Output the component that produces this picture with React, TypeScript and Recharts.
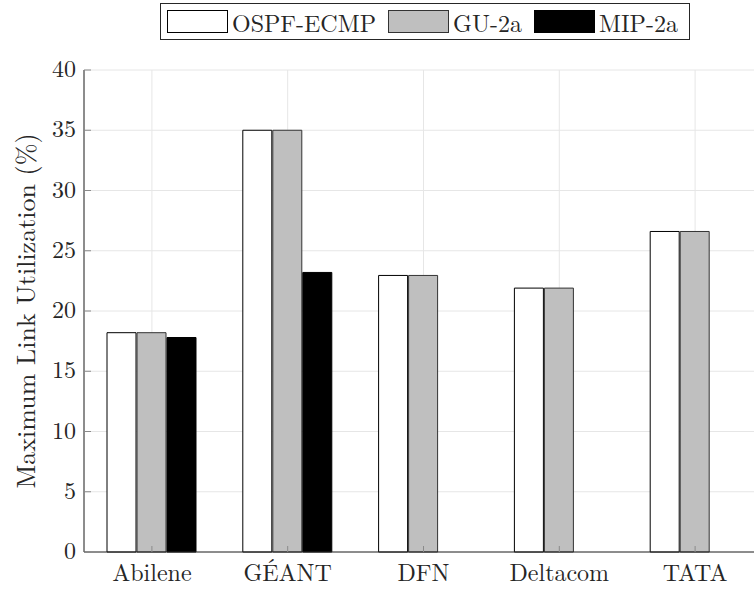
import React from "react";
import { BarChart, Bar, XAxis, YAxis, CartesianGrid } from "recharts";

const categories = ["Abilene", "GÉANT", "DFN", "Deltacom", "TATA"];
const ospfEcmp = [18.2, 35.0, 22.95, 21.9, 26.6];
const gu2a = [18.2, 35.0, 22.95, 21.9, 26.6];
const mip2a: (number | null)[] = [17.8, 23.2, null, null, null];
const yTicks = [0, 5, 10, 15, 20, 25, 30, 35, 40];

const seriesInfo = [
  { key: "ospf", name: "OSPF-ECMP", fill: "#ffffff", stroke: "#000000" },
  { key: "gu", name: "GU-2a", fill: "#bfbfbf", stroke: "#333333" },
  { key: "mip", name: "MIP-2a", fill: "#000000", stroke: "#000000" },
];

const data = categories.map((name, i) => ({
  name,
  ospf: ospfEcmp[i],
  gu: gu2a[i],
  mip: mip2a[i],
}));

const FONT = "'Latin Modern Roman', 'Liberation Serif', serif";
const AXIS = "#262626";
const TICK = "#8a8a8a";

function YTick(props: any) {
  const { x, y, payload } = props;
  return (
    <g>
      <line x1={x + 8} x2={x + 15} y1={y} y2={y} stroke={TICK} />
      <text x={x} y={y} dy="0.3em" textAnchor="end" fontFamily={FONT} fontSize={24} fill={AXIS}>
        {payload.value}
      </text>
    </g>
  );
}

function XTick(props: any) {
  const { x, y, payload } = props;
  const axisY = y - 13;
  return (
    <g>
      <line x1={x} x2={x} y1={axisY} y2={axisY - 6} stroke={TICK} />
      <text x={x} y={y} dy="0.68em" textAnchor="middle" fontFamily={FONT} fontSize={24} fill={AXIS}>
        {payload.value}
      </text>
    </g>
  );
}

function TopTick(props: any) {
  const { x, y } = props;
  return <line x1={x} x2={x} y1={y} y2={y + 6} stroke={TICK} />;
}

function YLabel(props: any) {
  const vb = props.viewBox;
  const cx = vb.x + 35;
  const cy = vb.y + vb.height / 2;
  return (
    <text
      x={cx}
      y={cy}
      transform={`rotate(-90 ${cx} ${cy})`}
      textAnchor="middle"
      fontFamily={FONT}
      fontSize={26}
      fill={AXIS}
    >
      Maximum Link Utilization (%)
    </text>
  );
}

function ChartLegend() {
  return (
    <div
      style={{
        position: "absolute",
        left: 160,
        top: 3,
        width: 530,
        height: 37,
        border: "1px solid #262626",
        background: "#fff",
        display: "flex",
        alignItems: "center",
        fontFamily: FONT,
        fontSize: 24,
        color: AXIS,
        boxSizing: "border-box",
        paddingLeft: 6,
        whiteSpace: "nowrap",
      }}
    >
      {seriesInfo.map((s) => (
        <div
          key={s.key}
          style={{ display: "flex", alignItems: "center", marginRight: 12, flexShrink: 0 }}
        >
          <div
            style={{
              width: 61,
              height: 23,
              boxSizing: "border-box",
              background: s.fill,
              border: `1px solid ${s.stroke}`,
              marginRight: 4,
              flexShrink: 0,
            }}
          />
          <span style={{ whiteSpace: "nowrap" }}>{s.name}</span>
        </div>
      ))}
    </div>
  );
}

export default function App() {
  return (
    <div
      style={{
        position: "absolute",
        left: 0,
        top: 0,
        width: 754,
        height: 590,
        overflow: "hidden",
        background: "#fff",
      }}
    >
      <BarChart
        width={780}
        height={590}
        data={data}
        margin={{ top: 70, right: 17, bottom: 0, left: 0 }}
        barSize={29}
        barGap={1}
      >
        <CartesianGrid stroke="#e6e6e6" />
        <XAxis
          dataKey="name"
          height={38}
          tickSize={0}
          tickMargin={13}
          axisLine={{ stroke: AXIS }}
          tick={<XTick />}
          interval={0}
        />
        <XAxis
          xAxisId="top"
          dataKey="name"
          orientation="top"
          height={0}
          tickSize={0}
          tickMargin={0}
          axisLine={{ stroke: AXIS }}
          tick={<TopTick />}
          interval={0}
        />
        <YAxis
          width={84}
          domain={[0, 40]}
          ticks={yTicks}
          interval={0}
          tickSize={0}
          tickMargin={8}
          axisLine={{ stroke: AXIS }}
          tick={<YTick />}
          label={<YLabel />}
        />
        {seriesInfo.map((s) => (
          <Bar
            key={s.key}
            dataKey={s.key}
            name={s.name}
            fill={s.fill}
            stroke={s.stroke}
            strokeWidth={1}
            isAnimationActive={false}
          />
        ))}
      </BarChart>
      <ChartLegend />
    </div>
  );
}
